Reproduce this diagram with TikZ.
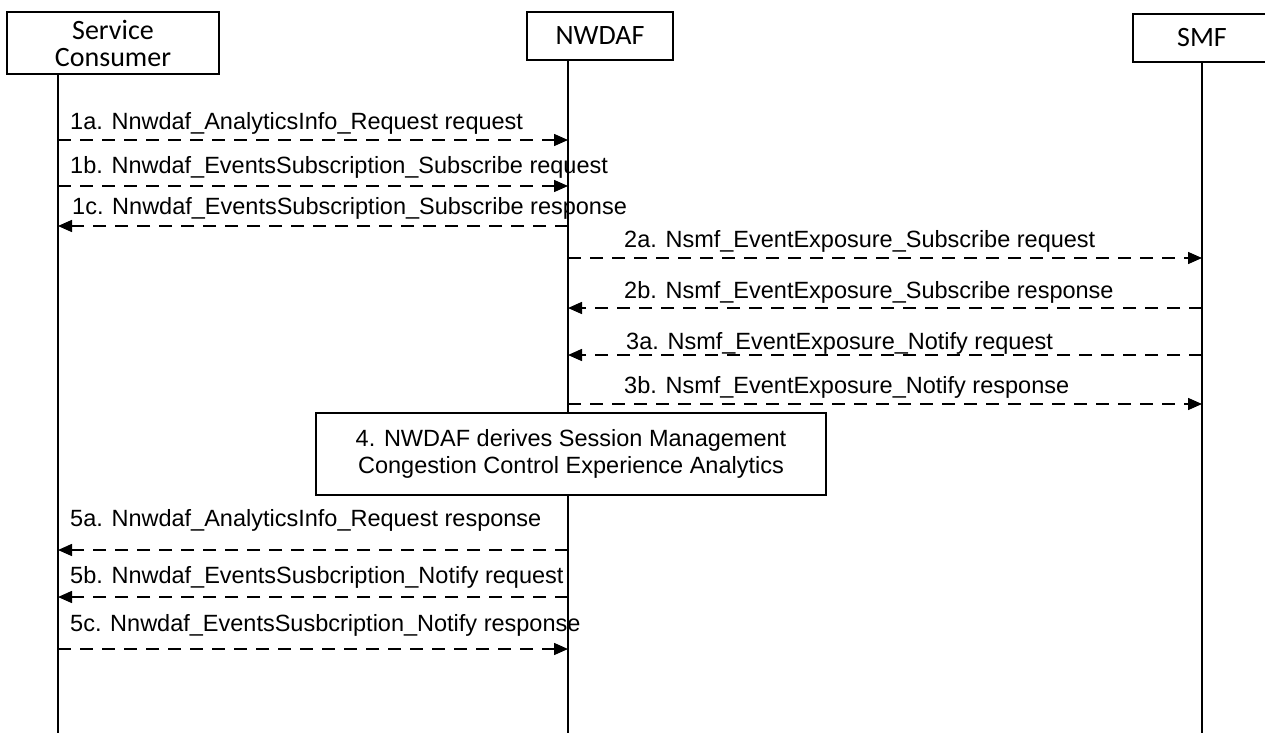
\documentclass[tikz,border=0pt]{standalone}
\usepackage{fontspec}
\setmainfont{Liberation Sans}
\newfontfamily\headfont{Carlito}
\usetikzlibrary{arrows.meta}

\tikzset{
  head/.style={draw, line width=1.5pt, align=center, inner sep=0pt,
    font=\headfont\fontsize{28}{27}\selectfont},
  life/.style={line width=1.5pt},
  msg/.style={line width=1.5pt, dash pattern=on 13pt off 9pt,
    -{Triangle[length=14pt,width=12pt]}},
  lbl/.style={anchor=base west, inner sep=0pt, font=\fontsize{23.5}{26}\selectfont},
}

\begin{document}
\begin{tikzpicture}[x=1pt,y=-1pt]
    \useasboundingbox (0,0) rectangle (1265,733);
    \fill[white] (0,0) rectangle (1265,733);
    \node[head, minimum width=212pt, minimum height=62pt] (sc) at (113,43) {Service\\Consumer};
    \node[head, minimum width=146pt, minimum height=48pt] (nw) at (600,36) {NWDAF};
    \node[head, minimum width=138pt, minimum height=48pt] (smf) at (1202,38) {SMF};
    \coordinate (scl) at (58,733);
    \coordinate (nwl) at (568,733);
    \coordinate (smfl) at (1202,733);
    \draw[life] (sc.south -| scl) -- (scl);
    \draw[life] (nw.south -| nwl) -- (nwl);
    \draw[life] (smf.south -| smfl) -- (smfl);

    \coordinate (y1a) at (0,140);
    \coordinate (y1b) at (0,186);
    \coordinate (y1c) at (0,226);
    \coordinate (y2a) at (0,258);
    \coordinate (y2b) at (0,308);
    \coordinate (y3a) at (0,355);
    \coordinate (y3b) at (0,404);
    \coordinate (y5a) at (0,550);
    \coordinate (y5b) at (0,597);
    \coordinate (y5c) at (0,649);

    \draw[msg] (scl |- y1a) -- (nwl |- y1a);
    \draw[msg] (scl |- y1b) -- (nwl |- y1b);
    \draw[msg] (nwl |- y1c) -- (scl |- y1c);
    \draw[msg] (nwl |- y2a) -- (smfl |- y2a);
    \draw[msg] (smfl |- y2b) -- (nwl |- y2b);
    \draw[msg] (smfl |- y3a) -- (nwl |- y3a);
    \draw[msg] (nwl |- y3b) -- (smfl |- y3b);
    \draw[msg] (nwl |- y5a) -- (scl |- y5a);
    \draw[msg] (nwl |- y5b) -- (scl |- y5b);
    \draw[msg] (scl |- y5c) -- (nwl |- y5c);

    \node[lbl] (t1a) at (70,129) {1a. Nnwdaf\_AnalyticsInfo\_Request request};
    \node[lbl] (t1b) at (70,173) {1b. Nnwdaf\_EventsSubscription\_Subscribe request};
    \node[lbl] (t1c) at (72,214) {1c. Nnwdaf\_EventsSubscription\_Subscribe response};
    \node[lbl] (t2a) at (624,247) {2a. Nsmf\_EventExposure\_Subscribe request};
    \node[lbl] (t2b) at (624,298) {2b. Nsmf\_EventExposure\_Subscribe response};
    \node[lbl] (t3a) at (626,349) {3a. Nsmf\_EventExposure\_Notify request};
    \node[lbl] (t3b) at (624,393) {3b. Nsmf\_EventExposure\_Notify response};
    \node[draw, fill=white, line width=1.5pt, align=center, minimum width=510pt, minimum height=82pt,
      font=\fontsize{23.5}{27}\selectfont] (derive) at (571,454)
      {4. NWDAF derives Session Management\\Congestion Control Experience Analytics};
    \node[lbl] (t5a) at (70,526) {5a. Nnwdaf\_AnalyticsInfo\_Request response};
    \node[lbl] (t5b) at (70,583) {5b. Nnwdaf\_EventsSusbcription\_Notify request};
    \node[lbl] (t5c) at (70,631) {5c. Nnwdaf\_EventsSusbcription\_Notify response};
\end{tikzpicture}
\end{document}
